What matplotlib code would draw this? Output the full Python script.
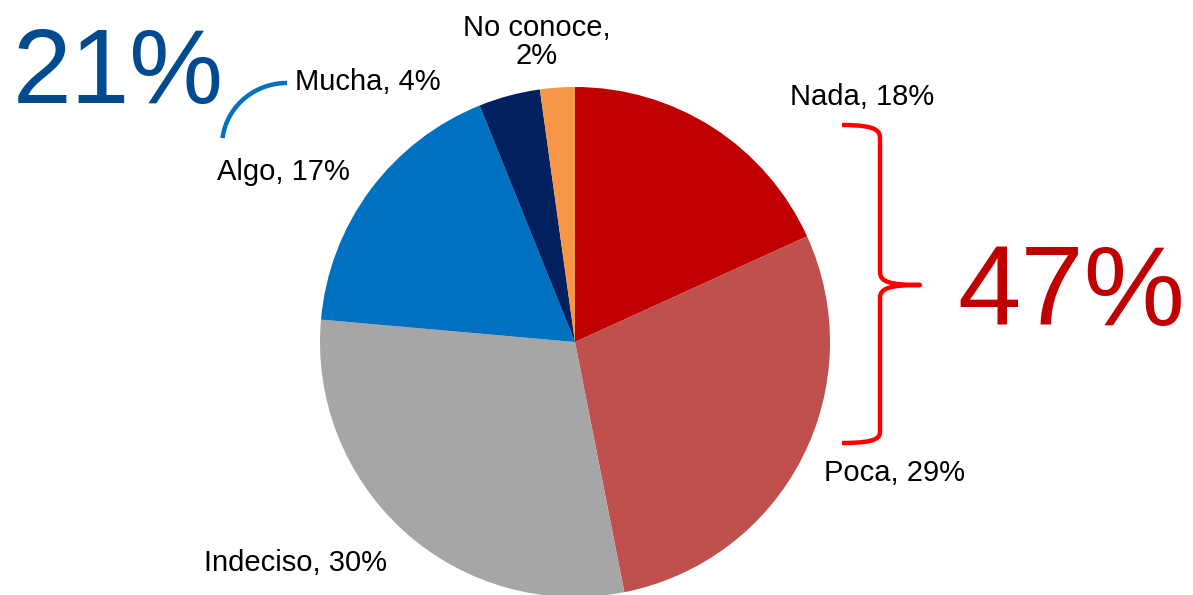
import numpy as np
import matplotlib.pyplot as plt
from matplotlib.path import Path
from matplotlib.patches import PathPatch

plt.rcParams['font.family'] = ['Liberation Sans', 'DejaVu Sans']

# slice data, clockwise from 12 o'clock
categories = ["Nada", "Poca", "Indeciso", "Algo", "Mucha", "No conoce"]
values = [18.2, 28.7, 29.5, 17.5, 3.9, 2.2]
shown_pct = [18, 29, 30, 17, 4, 2]
colors = ["#C00000", "#C0504D", "#A6A6A6", "#0070C0", "#002060", "#F79646"]
total_neg = "47%"
total_pos = "21%"

W, H = 1193, 595
fig = plt.figure(figsize=(W / 100, H / 100), dpi=100)
ax = fig.add_axes([0, 0, 1, 1])
ax.set_xlim(0, W)
ax.set_ylim(H, 0)
ax.set_aspect('equal')
ax.axis('off')

cx, cy, r = 575, 342, 255
# y axis is inverted, so counterclock=True draws clockwise on screen
ax.pie(values, colors=colors, startangle=-90, counterclock=True,
       center=(cx, cy), radius=r, frame=True,
       wedgeprops=dict(linewidth=0))
ax.set_xlim(0, W)
ax.set_ylim(H, 0)
ax.axis('off')

lbl = [f"{c}, {p}%" for c, p in zip(categories, shown_pct)]
fs = 21
ax.text(862, 97, lbl[0], fontsize=fs, ha='center', va='center')
ax.text(895, 473, lbl[1], fontsize=fs, ha='center', va='center')
ax.text(295, 563, lbl[2], fontsize=fs, ha='center', va='center')
ax.text(283, 172, lbl[3], fontsize=fs, ha='center', va='center')
ax.text(368, 82, lbl[4], fontsize=fs, ha='center', va='center')
ax.text(537, 42, f"{categories[5]},\n{shown_pct[5]}%", fontsize=fs,
        ha='center', va='center', linespacing=1.0)

# big totals
ax.text(118, 75, total_pos, fontsize=76, color="#004A8F", ha='center', va='center')
ax.text(1071, 296, total_neg, fontsize=82, color="#C00000", ha='center', va='center')

# curly bracket for the negative side
verts = [(842, 125), (880, 125), (880, 132), (880, 140),
         (880, 272), (880, 282), (890, 285), (920, 285),
         (890, 285), (880, 288), (880, 298),
         (880, 430), (880, 437), (880, 443), (842, 443)]
codes = [Path.MOVETO, Path.CURVE4, Path.CURVE4, Path.CURVE4,
         Path.LINETO, Path.CURVE4, Path.CURVE4, Path.CURVE4,
         Path.CURVE4, Path.CURVE4, Path.CURVE4,
         Path.LINETO, Path.CURVE4, Path.CURVE4, Path.CURVE4]
ax.add_patch(PathPatch(Path(verts, codes), fill=False, edgecolor="#FF0000",
                       linewidth=3.2, capstyle='butt', joinstyle='round'))

# small arc for the positive side
t = np.linspace(np.pi / 2, np.pi * 0.96, 40)
ax.plot(287 + 65 * np.cos(t), 146 - 63 * np.sin(t), color="#0070C0",
        linewidth=3.2, solid_capstyle='butt')

fig.savefig("out.png", dpi=100)
